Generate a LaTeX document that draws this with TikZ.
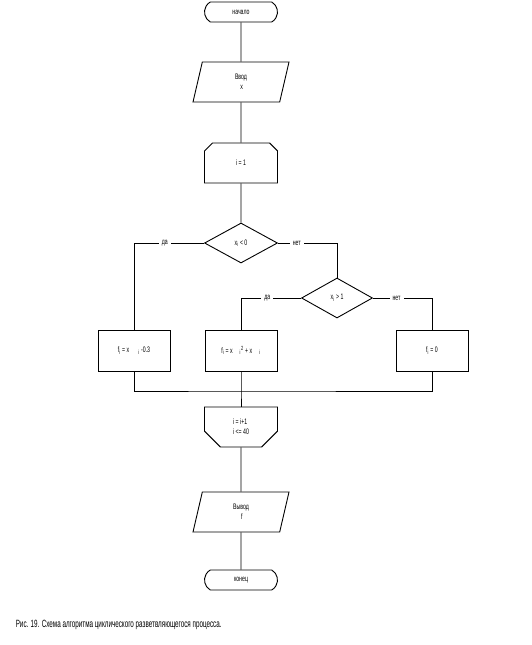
\documentclass[tikz,border=0pt]{standalone}
\usepackage{fontspec}
\setmainfont{Liberation Sans}[FakeStretch=0.65]
\newfontfamily\capfont{Liberation Sans}[FakeStretch=0.6]
\usetikzlibrary{shapes.geometric,shapes.misc}

\begin{document}
\begin{tikzpicture}[x=1pt, y=-1pt, line width=0.9pt, font=\fontsize{8}{10}\selectfont,
  term/.style={draw, rounded rectangle, rounded rectangle arc length=120, minimum width=73pt, minimum height=20pt, inner sep=0pt},
  io/.style={draw, trapezium, trapezium left angle=59, trapezium right angle=121, trapezium stretches body,
    minimum width=96pt, minimum height=40pt, inner sep=0pt, align=center},
  loopbox/.style={draw, chamfered rectangle, chamfered rectangle xsep=12pt, chamfered rectangle ysep=10pt,
    minimum width=73pt, minimum height=40pt, inner sep=0pt, align=left},
  cond/.style={draw, diamond, minimum width=73pt, minimum height=40pt, inner sep=0pt},
  proc/.style={draw, rectangle, minimum width=72pt, minimum height=41pt, inner sep=0pt},
  lbl/.style={fill=white, inner sep=3pt}]
  \useasboundingbox (0,0) rectangle (531,645);
  % main column
  \node[term] (start) at (241,12) {начало};
  \node[io] (in) at (241,82) {Ввод\\ \ x};
  \node[loopbox, chamfered rectangle corners={north west, north east}] (init) at (241,163) {i = 1};
  \node[cond] (c1) at (241,243) {x\textsubscript{i} < 0};
  \node[cond, minimum width=71pt] (c2) at (337,298) {x\textsubscript{i} > 1};
  % branches
  \node[proc] (f1) at (134,350.5) {f\textsubscript{i} = x\hspace{9pt}\textsubscript{i} -0.3};
  \node[proc] (f2) at (241,350.5) {f\textsubscript{i} = x\hspace{7pt}\textsubscript{i}\textsuperscript{2} + x\hspace{7pt}\textsubscript{i}};
  \node[proc] (f3) at (432,350.5) {f\textsubscript{i} = 0};
  \coordinate (join) at (241,391);
  \node[loopbox, chamfered rectangle corners={south west, south east}] (next) at (241,427) {i = i+1\\ i <= 40};
  \node[io] (out) at (241,512) {Вывод\\ \ f};
  \node[term] (stop) at (241,580) {конец};
  \node[anchor=west, font=\capfont\fontsize{10.5}{12}\selectfont] (caption) at (12,625)
    {Рис. 19. Схема алгоритма циклического разветвляющегося процесса.};

  \draw (start) -- (in) -- (init) -- (c1);
  \draw (c1.west) -| node[lbl, pos=0.28] {да} (f1.north);
  \draw (c1.east) -| node[lbl, pos=0.16] {нет} (c2.north);
  \draw (c2.west) -| node[lbl, pos=0.28] {да} (f2.north);
  \draw (c2.east) -| node[lbl, pos=0.2] {нет} (f3.north);
  \draw (f1.south) |- (join) -| (f3.south);
  \draw (f2.south) -- (join) -- (next.north);
  \draw (next) -- (out) -- (stop);
\end{tikzpicture}
\end{document}
